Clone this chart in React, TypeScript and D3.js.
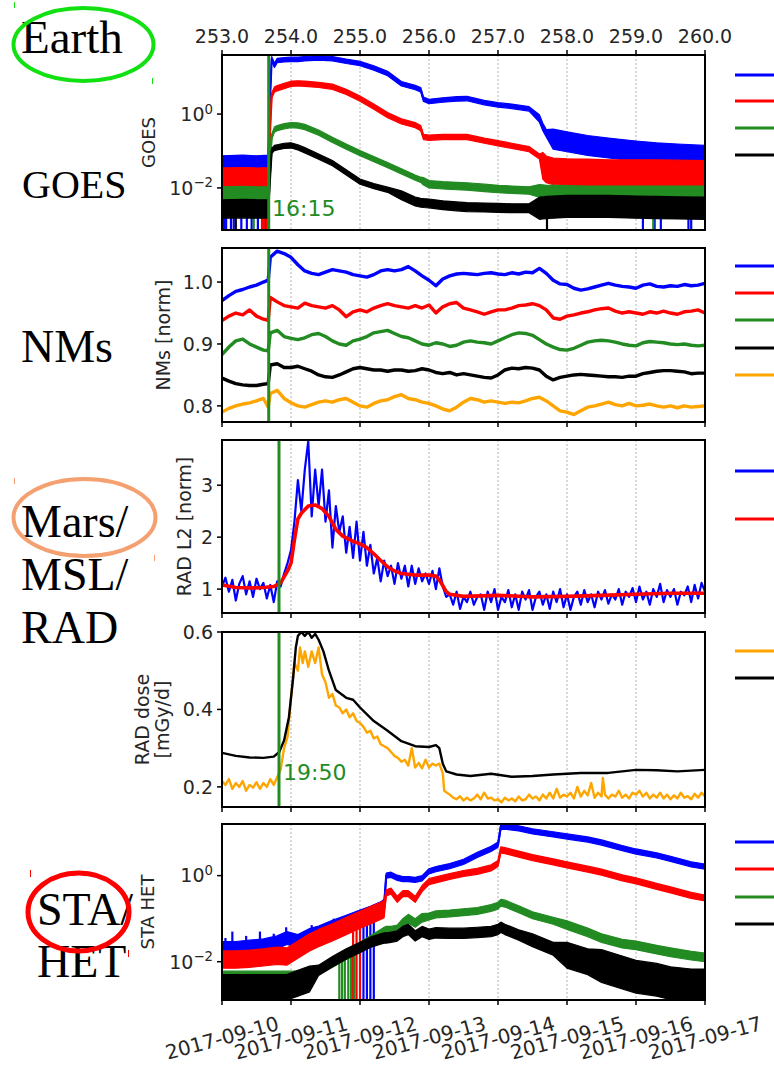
import React from 'react';
import * as d3 from 'd3';

// ---------- axis / label data ----------
const DAYS = [253, 254, 255, 256, 257, 258, 259, 260];
const TOP_LABELS = ['253.0', '254.0', '255.0', '256.0', '257.0', '258.0', '259.0', '260.0'];
const DATE_LABELS = ['2017-09-10', '2017-09-11', '2017-09-12', '2017-09-13', '2017-09-14', '2017-09-15', '2017-09-16', '2017-09-17'];
const GRID_DAYS = [254, 255, 256, 257, 258, 259];
const EARTH_ONSET = 253.677; // 16:15
const MARS_ONSET = 253.826; // 19:50

const COLORS = { blue: '#0000ff', red: '#ff0000', green: '#228b22', black: '#000000', orange: '#ffa500' };

// ---------- GOES (log10 flux) ----------
const GOES_T = [253.0, 253.3, 253.5, 253.67, 253.70, 253.72, 253.76, 253.8, 253.9, 254.0, 254.1, 254.2, 254.4, 254.6, 254.8, 255.0, 255.2, 255.4, 255.6, 255.8, 255.88, 255.92, 256.0, 256.2, 256.4, 256.55, 256.8, 257.0, 257.2, 257.45, 257.6, 257.65, 257.7, 257.8, 258.0, 258.3, 258.6, 259.0, 259.3, 259.6, 260.0];
const GOES_BLUE = [-1.30, -1.28, -1.30, -1.28, 0.6, 1.5, 1.32, 1.45, 1.47, 1.48, 1.48, 1.50, 1.52, 1.50, 1.43, 1.37, 1.25, 1.10, 0.82, 0.72, 0.66, 0.40, 0.34, 0.38, 0.41, 0.42, 0.31, 0.25, 0.21, 0.14, -0.12, -0.35, -0.52, -0.68, -0.75, -0.85, -0.92, -1.0, -1.05, -1.08, -1.12];
const GOES_RED = [-1.73, -1.72, -1.73, -1.72, -0.3, 0.50, 0.66, 0.70, 0.76, 0.82, 0.83, 0.82, 0.79, 0.74, 0.60, 0.42, 0.20, -0.03, -0.20, -0.30, -0.38, -0.62, -0.64, -0.62, -0.62, -0.62, -0.72, -0.79, -0.86, -0.95, -1.15, -1.40, -1.50, -1.55, -1.57, -1.58, -1.60, -1.60, -1.60, -1.61, -1.62];
const GOES_GREEN = [-2.15, -2.14, -2.15, -2.15, -1.2, -0.62, -0.42, -0.38, -0.33, -0.30, -0.31, -0.35, -0.50, -0.70, -0.88, -1.06, -1.22, -1.38, -1.55, -1.72, -1.78, -1.82, -1.90, -1.93, -1.95, -1.96, -2.0, -2.03, -2.05, -2.07, -2.08, -2.09, -2.10, -2.10, -2.11, -2.12, -2.12, -2.12, -2.12, -2.12, -2.12];
const GOES_BLACK = [-2.57, -2.56, -2.57, -2.57, -1.6, -1.0, -0.92, -0.90, -0.86, -0.85, -0.90, -0.98, -1.15, -1.33, -1.58, -1.83, -1.95, -2.05, -2.20, -2.37, -2.40, -2.41, -2.42, -2.47, -2.50, -2.52, -2.53, -2.54, -2.55, -2.55, -2.55, -2.54, -2.53, -2.52, -2.50, -2.50, -2.50, -2.52, -2.53, -2.54, -2.55];
// noise half-width in decades, as [start day, spread]
const GOES_BLUE_NOISE = [[253.0, 0.17], [253.69, 0.06], [257.6, 0.1], [257.75, 0.27]];
const GOES_RED_NOISE = [[253.0, 0.27], [253.69, 0.07], [257.62, 0.36]];
const GOES_GREEN_NOISE = [[253.0, 0.18], [253.69, 0.07], [255.9, 0.1], [257.6, 0.17]];
const GOES_BLACK_NOISE = [[253.0, 0.25], [253.69, 0.07], [255.6, 0.12], [257.6, 0.3]];
const GOES_BLUE_DROPS = [253.03, 253.06, 253.13, 253.17, 253.28, 253.36, 253.43, 253.52, 253.63, 259.1, 259.27, 259.36, 259.76, 259.8];
const GOES_RED_DROPS = [253.58, 253.61, 253.65];
const GOES_GREEN_DROPS = [253.46, 259.25];
const GOES_BLACK_DROPS = [253.2, 257.71];

// ---------- Neutron monitors ----------
const NM_T = [253.0, 253.1, 253.2, 253.3, 253.4, 253.5, 253.6, 253.67, ...d3.range(64).map((i) => 253.7 + i * 0.1)];
const NM_BLUE = [0.970, 0.978, 0.985, 0.988, 0.992, 0.995, 1.000, 1.003,
  1.040, 1.050, 1.046, 1.040, 1.028, 1.018, 1.014, 1.012, 1.016, 1.020, 1.018, 1.016, 1.012, 1.010, 1.008, 1.012, 1.018, 1.020, 1.018, 1.020, 1.025, 1.018, 1.010, 1.003, 0.994, 1.005, 1.010, 1.013, 1.014, 1.013, 1.012, 1.014, 1.015, 1.013, 1.012, 1.015, 1.013, 1.016, 1.015, 1.022, 1.014, 1.003, 0.997, 0.996, 0.990, 0.987, 0.989, 0.992, 0.995, 0.998, 0.995, 0.993, 0.992, 0.990, 0.995, 0.997, 0.993, 0.992, 0.994, 0.993, 0.996, 0.994, 0.995, 0.998];
const NM_RED = [0.938, 0.945, 0.950, 0.947, 0.955, 0.945, 0.940, 0.938,
  0.975, 0.968, 0.962, 0.960, 0.958, 0.966, 0.962, 0.960, 0.958, 0.962, 0.955, 0.944, 0.952, 0.955, 0.952, 0.958, 0.962, 0.965, 0.962, 0.960, 0.958, 0.962, 0.958, 0.963, 0.950, 0.960, 0.965, 0.967, 0.958, 0.955, 0.952, 0.948, 0.952, 0.955, 0.955, 0.958, 0.962, 0.963, 0.965, 0.962, 0.955, 0.942, 0.940, 0.945, 0.947, 0.950, 0.952, 0.955, 0.957, 0.958, 0.953, 0.950, 0.952, 0.950, 0.948, 0.952, 0.950, 0.953, 0.950, 0.948, 0.952, 0.953, 0.955, 0.950];
const NM_GREEN = [0.883, 0.895, 0.905, 0.908, 0.900, 0.895, 0.890, 0.889,
  0.918, 0.922, 0.912, 0.909, 0.907, 0.910, 0.915, 0.917, 0.912, 0.905, 0.900, 0.898, 0.905, 0.908, 0.912, 0.918, 0.920, 0.922, 0.917, 0.912, 0.910, 0.905, 0.900, 0.898, 0.902, 0.900, 0.896, 0.898, 0.903, 0.905, 0.903, 0.902, 0.900, 0.905, 0.910, 0.915, 0.918, 0.917, 0.914, 0.907, 0.900, 0.895, 0.891, 0.890, 0.893, 0.898, 0.903, 0.905, 0.906, 0.905, 0.903, 0.900, 0.898, 0.897, 0.902, 0.904, 0.903, 0.902, 0.900, 0.899, 0.900, 0.898, 0.897, 0.898];
const NM_BLACK = [0.845, 0.840, 0.836, 0.834, 0.833, 0.833, 0.835, 0.836,
  0.866, 0.868, 0.862, 0.862, 0.864, 0.860, 0.856, 0.850, 0.847, 0.846, 0.850, 0.855, 0.860, 0.862, 0.860, 0.858, 0.858, 0.856, 0.858, 0.858, 0.856, 0.857, 0.860, 0.858, 0.854, 0.852, 0.854, 0.850, 0.852, 0.850, 0.848, 0.846, 0.845, 0.850, 0.858, 0.861, 0.860, 0.862, 0.861, 0.858, 0.848, 0.842, 0.846, 0.848, 0.850, 0.851, 0.850, 0.849, 0.848, 0.847, 0.847, 0.846, 0.848, 0.848, 0.852, 0.854, 0.856, 0.857, 0.857, 0.856, 0.855, 0.852, 0.853, 0.853];
const NM_ORANGE = [0.790, 0.796, 0.800, 0.803, 0.805, 0.808, 0.812, 0.798,
  0.820, 0.825, 0.812, 0.805, 0.800, 0.798, 0.802, 0.806, 0.808, 0.806, 0.810, 0.812, 0.806, 0.800, 0.798, 0.804, 0.808, 0.810, 0.815, 0.818, 0.812, 0.810, 0.806, 0.804, 0.800, 0.795, 0.792, 0.798, 0.806, 0.812, 0.810, 0.806, 0.808, 0.806, 0.804, 0.806, 0.805, 0.808, 0.812, 0.814, 0.808, 0.800, 0.792, 0.790, 0.786, 0.792, 0.798, 0.800, 0.803, 0.806, 0.802, 0.800, 0.804, 0.800, 0.801, 0.803, 0.800, 0.798, 0.800, 0.797, 0.800, 0.798, 0.799, 0.800];

// ---------- RAD L2 ----------
const L2_BLUE_T = d3.range(141).map((i) => 253 + i * 0.05);
const L2_BLUE = [
  1.05, 1.22, 0.95, 1.18, 0.78, 1.10, 1.25, 0.90, 1.15, 0.85,
  1.20, 1.00, 1.12, 0.82, 1.08, 0.75, 1.15, 1.05, 1.30, 1.50,
  1.75, 2.30, 3.10, 2.50, 3.30, 3.85, 2.40, 3.30, 2.60, 3.30,
  2.30, 2.90, 1.80, 2.60, 2.10, 2.40, 1.70, 2.20, 1.60, 2.30,
  1.55, 2.10, 1.45, 1.85, 1.30, 1.60, 1.15, 1.55, 1.25, 1.45,
  1.10, 1.50, 1.20, 1.45, 1.05, 1.45, 1.10, 1.40, 1.15, 1.30,
  1.10, 1.35, 1.00, 1.40, 1.05, 0.85, 0.90, 0.70, 0.95, 0.62,
  0.85, 0.75, 0.95, 0.70, 0.85, 0.90, 0.60, 0.95, 0.75, 1.00,
  0.60, 0.85, 0.75, 0.98, 0.65, 0.90, 0.60, 0.95, 0.80, 0.98,
  0.60, 0.85, 0.95, 0.70, 0.90, 0.62, 0.95, 0.75, 1.00, 0.65,
  0.90, 0.60, 0.85, 0.95, 0.70, 0.98, 0.75, 0.90, 0.65, 0.95,
  0.80, 0.98, 0.72, 0.90, 0.80, 1.00, 0.70, 0.95, 0.85, 1.02,
  0.75, 1.05, 0.80, 0.95, 0.70, 1.00, 0.85, 1.10, 0.75, 0.98,
  0.85, 1.00, 0.70, 0.95, 0.88, 1.05, 0.75, 1.08, 0.82, 1.12,
  0.95];
const L2_RED = [[253.0, 1.08], [253.2, 1.03], [253.4, 1.02], [253.6, 1.03], [253.75, 1.05], [253.85, 1.12], [253.95, 1.35], [254.0, 1.5], [254.05, 1.95], [254.1, 2.35], [254.15, 2.46], [254.25, 2.6], [254.35, 2.62], [254.45, 2.55], [254.55, 2.4], [254.65, 2.15], [254.75, 2.02], [254.9, 1.92], [255.0, 1.87], [255.1, 1.8], [255.2, 1.68], [255.3, 1.55], [255.4, 1.43], [255.5, 1.35], [255.6, 1.3], [255.8, 1.27], [256.0, 1.27], [256.1, 1.25], [256.15, 1.18], [256.25, 0.95], [256.3, 0.9], [256.5, 0.86], [257.0, 0.88], [257.5, 0.85], [258.0, 0.86], [258.5, 0.88], [259.0, 0.9], [259.5, 0.92], [260.0, 0.92]];

// ---------- RAD dose ----------
const DOSE_BLACK = [[253.0, 0.288], [253.2, 0.28], [253.4, 0.276], [253.6, 0.275], [253.75, 0.278], [253.83, 0.29], [253.9, 0.32], [253.97, 0.38], [254.03, 0.48], [254.07, 0.56], [254.1, 0.59], [254.15, 0.6], [254.2, 0.59], [254.25, 0.6], [254.3, 0.585], [254.35, 0.595], [254.4, 0.58], [254.47, 0.55], [254.55, 0.5], [254.65, 0.45], [254.8, 0.43], [254.9, 0.425], [255.0, 0.405], [255.2, 0.37], [255.4, 0.345], [255.6, 0.318], [255.8, 0.305], [256.0, 0.303], [256.1, 0.308], [256.15, 0.3], [256.2, 0.26], [256.25, 0.24], [256.4, 0.232], [256.6, 0.228], [256.9, 0.234], [257.2, 0.226], [257.5, 0.228], [257.8, 0.232], [258.2, 0.236], [258.6, 0.236], [259.0, 0.244], [259.3, 0.243], [259.6, 0.24], [260.0, 0.244]];
const DOSE_ORANGE = [[253.0, 0.215], [253.05, 0.205], [253.1, 0.22], [253.15, 0.195], [253.2, 0.21], [253.25, 0.2], [253.3, 0.215], [253.35, 0.19], [253.4, 0.205], [253.45, 0.198], [253.5, 0.212], [253.55, 0.195], [253.6, 0.21], [253.65, 0.2], [253.7, 0.22], [253.75, 0.205], [253.8, 0.225], [253.85, 0.245], [253.9, 0.3], [253.95, 0.33], [254.0, 0.43], [254.05, 0.52], [254.1, 0.5], [254.13, 0.56], [254.17, 0.52], [254.2, 0.55], [254.25, 0.51], [254.3, 0.55], [254.35, 0.52], [254.4, 0.56], [254.45, 0.49], [254.5, 0.47], [254.55, 0.43], [254.6, 0.44], [254.65, 0.41], [254.7, 0.405], [254.75, 0.39], [254.8, 0.4], [254.85, 0.38], [254.9, 0.39], [254.95, 0.37], [255.0, 0.365], [255.05, 0.355], [255.1, 0.34], [255.15, 0.345], [255.2, 0.325], [255.25, 0.33], [255.3, 0.31], [255.35, 0.305], [255.4, 0.3], [255.45, 0.29], [255.5, 0.28], [255.55, 0.275], [255.6, 0.265], [255.65, 0.27], [255.7, 0.255], [255.75, 0.3], [255.8, 0.25], [255.85, 0.262], [255.9, 0.248], [255.95, 0.27], [256.0, 0.25], [256.05, 0.26], [256.1, 0.255], [256.15, 0.26], [256.2, 0.235], [256.22, 0.19], [256.3, 0.18], [256.35, 0.172], [256.4, 0.168], [256.45, 0.176], [256.5, 0.165], [256.55, 0.172], [256.6, 0.165], [256.65, 0.17], [256.7, 0.18], [256.75, 0.168], [256.8, 0.185], [256.85, 0.17], [256.9, 0.172], [256.95, 0.165], [257.0, 0.168], [257.05, 0.16], [257.1, 0.172], [257.15, 0.165], [257.2, 0.17], [257.25, 0.163], [257.3, 0.175], [257.35, 0.165], [257.4, 0.168], [257.45, 0.18], [257.5, 0.17], [257.55, 0.175], [257.6, 0.165], [257.65, 0.18], [257.7, 0.17], [257.75, 0.185], [257.8, 0.17], [257.85, 0.195], [257.9, 0.172], [257.95, 0.18], [258.0, 0.175], [258.05, 0.185], [258.1, 0.17], [258.15, 0.2], [258.2, 0.175], [258.25, 0.19], [258.3, 0.178], [258.35, 0.21], [258.4, 0.172], [258.45, 0.185], [258.5, 0.175], [258.52, 0.223], [258.55, 0.18], [258.6, 0.17], [258.65, 0.18], [258.7, 0.175], [258.75, 0.19], [258.8, 0.172], [258.85, 0.18], [258.9, 0.17], [258.95, 0.185], [259.0, 0.18], [259.05, 0.19], [259.1, 0.175], [259.15, 0.185], [259.2, 0.17], [259.25, 0.18], [259.3, 0.172], [259.35, 0.185], [259.4, 0.17], [259.45, 0.18], [259.5, 0.168], [259.55, 0.178], [259.6, 0.17], [259.65, 0.185], [259.7, 0.172], [259.75, 0.176], [259.8, 0.168], [259.85, 0.182], [259.9, 0.172], [259.95, 0.185], [260.0, 0.175]];

// ---------- STEREO-A HET (log10 flux) ----------
const STA_T = [253.0, 253.2, 253.4, 253.6, 253.8, 253.94, 254.1, 254.27, 254.4, 254.6, 254.8, 255.0, 255.15, 255.3, 255.35, 255.38, 255.45, 255.54, 255.62, 255.7, 255.8, 255.9, 256.0, 256.1, 256.3, 256.5, 256.7, 256.9, 257.0, 257.04, 257.1, 257.3, 257.5, 257.8, 258.0, 258.3, 258.5, 258.8, 259.0, 259.3, 259.5, 259.8, 260.0];
const STA_BLUE = [-1.68, -1.68, -1.65, -1.62, -1.55, -1.45, -1.52, -1.38, -1.32, -1.19, -1.07, -0.95, -0.86, -0.76, -0.70, 0.0, 0.02, -0.05, -0.08, -0.08, -0.10, -0.06, 0.10, 0.15, 0.22, 0.32, 0.48, 0.62, 0.72, 1.13, 1.14, 1.10, 1.03, 0.96, 0.91, 0.84, 0.77, 0.64, 0.56, 0.47, 0.39, 0.26, 0.21];
const STA_RED = [-1.95, -1.95, -1.93, -1.90, -1.86, -1.88, -1.72, -1.55, -1.45, -1.32, -1.17, -1.03, -0.92, -0.82, -0.78, -0.40, -0.36, -0.55, -0.42, -0.42, -0.55, -0.30, -0.14, -0.10, -0.02, 0.05, 0.10, 0.18, 0.28, 0.60, 0.58, 0.50, 0.42, 0.32, 0.25, 0.15, 0.08, -0.05, -0.12, -0.25, -0.33, -0.46, -0.52];
const STA_GREEN = [-2.32, -2.32, -2.32, -2.32, -2.32, -2.32, -2.32, -2.3, -2.2, -2.03, -1.85, -1.65, -1.5, -1.35, -1.30, -1.28, -1.28, -1.25, -1.10, -1.0, -1.1, -0.98, -0.95, -0.9, -0.88, -0.85, -0.82, -0.75, -0.70, -0.63, -0.65, -0.78, -0.92, -1.05, -1.15, -1.32, -1.45, -1.58, -1.62, -1.72, -1.78, -1.86, -1.9];
const STA_BLACK = [-2.6, -2.6, -2.6, -2.6, -2.6, -2.6, -2.5, -2.4, -2.2, -2.0, -1.82, -1.67, -1.55, -1.47, -1.45, -1.45, -1.43, -1.40, -1.30, -1.25, -1.40, -1.30, -1.36, -1.33, -1.34, -1.34, -1.32, -1.30, -1.25, -1.20, -1.25, -1.38, -1.50, -1.70, -1.85, -2.0, -2.1, -2.25, -2.35, -2.42, -2.5, -2.55, -2.55];
const STA_BLUE_NOISE = [[253.0, 0.15], [255.36, 0.06]];
const STA_RED_NOISE = [[253.0, 0.2], [255.36, 0.07]];
const STA_GREEN_NOISE = [[253.0, 0.1], [256.0, 0.08], [258.0, 0.1]];
const STA_BLACK_NOISE = [[253.0, 0.3], [254.3, 0.12], [257.5, 0.15], [258.0, 0.3], [258.5, 0.38]];
const STA_BLUE_PEAKS = [[253.05, -1.45], [253.15, -1.3], [253.35, -1.4], [253.55, -1.3], [253.75, -1.35], [253.93, -1.2], [254.1, -1.4], [254.3, -1.15], [254.45, -1.2], [254.62, -1.0]];
const STA_GREEN_DROPS = [254.7, 254.74, 254.78, 254.83, 254.87, 254.92];
const STA_RED_DROPS = [254.9, 254.95, 255.0];
const STA_BLUE_DROPS = [255.05, 255.1, 255.15, 255.2];

// ---------- layout ----------
const W = 774;
const H = 1066;
const X0 = 222;
const X1 = 705;
const P = {
  goes: [55, 230],
  nm: [248, 422],
  l2: [440, 613],
  dose: [632, 807],
  sta: [824, 1000],
};
const FONT = 'DejaVu Sans, sans-serif';
const SERIF = 'Liberation Serif, Times New Roman, serif';

function noiseAt(noise: number[][], t: number) {
  let s = noise[0][1];
  for (const [t0, v] of noise) if (t >= t0) s = v;
  return s;
}
function interpAt(T: number[], v: number[], t: number) {
  const i = Math.max(1, Math.min(T.length - 1, d3.bisectRight(T, t)));
  const a = (t - T[i - 1]) / (T[i] - T[i - 1]);
  return v[i - 1] + a * (v[i] - v[i - 1]);
}

export default function App() {
  const x = d3.scaleLinear().domain([253, 260]).range([X0, X1]);
  const yGoes = d3.scaleLog().domain([10 ** -3.14, 10 ** 1.6]).range([P.goes[1], P.goes[0]]).clamp(true);
  const yNm = d3.scaleLinear().domain([0.774, 1.055]).range([P.nm[1], P.nm[0]]);
  const yL2 = d3.scaleLinear().domain([0.54, 3.87]).range([P.l2[1], P.l2[0]]);
  const yDose = d3.scaleLinear().domain([0.148, 0.6]).range([P.dose[1], P.dose[0]]);
  const ySta = d3.scaleLog().domain([10 ** -2.89, 10 ** 1.2]).range([P.sta[1], P.sta[0]]).clamp(true);

  const band = (T: number[], c: number[], noise: number[][], y: any, color: string, key: string) => {
    const area = d3.area<number>()
      .x((_, i) => x(T[i]))
      .y0((v, i) => y(10 ** (v - noiseAt(noise, T[i]))))
      .y1((v, i) => y(10 ** (v + noiseAt(noise, T[i]))));
    const line = d3.line<number>().x((_, i) => x(T[i])).y((v) => y(10 ** v));
    return (
      <g key={key}>
        <path d={area(c) || ''} fill={color} stroke={color} strokeWidth={1.2} strokeLinejoin="round" />
        <path d={line(c) || ''} fill="none" stroke={color} strokeWidth={2.2} />
      </g>
    );
  };
  const drops = (days: number[], T: number[], c: number[], noise: number[][], y: any, bottom: number, color: string, key: string) => (
    <g key={key}>
      {days.map((t, i) => (
        <line key={i} x1={x(t)} x2={x(t)} y1={y(10 ** (interpAt(T, c, t) - noiseAt(noise, t)))} y2={bottom} stroke={color} strokeWidth={2.2} />
      ))}
    </g>
  );
  const pairLine = (pts: number[][], y: any, color: string, w: number) => {
    const line = d3.line<number[]>().x((d) => x(d[0])).y((d) => y(d[1]));
    return <path d={line(pts) || ''} fill="none" stroke={color} strokeWidth={w} strokeLinejoin="round" />;
  };
  const arrLine = (T: number[], v: number[], y: any, color: string, w: number, key?: string) => {
    const line = d3.line<number>().x((_, i) => x(T[i])).y((d) => y(d));
    return <path key={key} d={line(v) || ''} fill="none" stroke={color} strokeWidth={w} strokeLinejoin="round" />;
  };

  const frame = (p: number[], id: string) => (
    <rect x={X0} y={p[0]} width={X1 - X0} height={p[1] - p[0]} fill="none" stroke="#000" strokeWidth={2} key={id} />
  );
  const grid = (p: number[], id: string) => (
    <g key={id}>
      {GRID_DAYS.map((d) => (
        <line key={d} x1={x(d)} x2={x(d)} y1={p[0]} y2={p[1]} stroke="#a0a0a0" strokeWidth={0.8} strokeDasharray="2,2" />
      ))}
    </g>
  );
  const bottomTicks = (p: number[], id: string) => (
    <g key={id}>
      {DAYS.map((d) => (
        <line key={d} x1={x(d)} x2={x(d)} y1={p[1]} y2={p[1] + 5} stroke="#000" strokeWidth={1.5} />
      ))}
    </g>
  );
  const yTick = (yy: number, label: React.ReactNode, key: string, fs = 19) => (
    <g key={key}>
      <line x1={X0 - 5} x2={X0} y1={yy} y2={yy} stroke="#000" strokeWidth={1.5} />
      <text x={X0 - 9} y={yy} dy="0.36em" textAnchor="end" fontSize={fs} fontFamily={FONT} fill="#262626">{label}</text>
    </g>
  );
  const logLabel = (exp: string) => (
    <>
      <tspan>10</tspan>
      <tspan dy="-0.55em" fontSize="0.7em">{exp}</tspan>
    </>
  );
  const legend = (ys: number[], cols: string[], key: string) => (
    <g key={key}>
      {ys.map((yy, i) => (
        <line key={i} x1={735} x2={W} y1={yy} y2={yy} stroke={cols[i]} strokeWidth={3} />
      ))}
    </g>
  );
  const clip = (id: string, p: number[]) => (
    <clipPath id={id} key={id}>
      <rect x={X0} y={p[0]} width={X1 - X0} height={p[1] - p[0]} />
    </clipPath>
  );

  return (
    <svg width={W} height={H} viewBox={`0 0 ${W} ${H}`} style={{ position: 'absolute', left: 0, top: 0, background: '#fff' }}>
      <defs>
        {clip('c1', P.goes)}
        {clip('c2', P.nm)}
        {clip('c3', P.l2)}
        {clip('c4', P.dose)}
        {clip('c5', P.sta)}
      </defs>
      <rect x={0} y={0} width={W} height={H} fill="#fff" />

      {/* left annotations */}
      <g fontFamily={SERIF} fill="#000">
        <text x={21} y={53} fontSize={47}>Earth</text>
        <text x={22} y={198} fontSize={40}>GOES</text>
        <text x={21} y={362} fontSize={46}>NMs</text>
        <text x={21} y={537} fontSize={46}>Mars/</text>
        <text x={21} y={590} fontSize={46}>MSL/</text>
        <text x={21} y={643} fontSize={46}>RAD</text>
        <text x={37} y={925} fontSize={46}>STA/</text>
        <text x={37} y={977} fontSize={46}>HET</text>
      </g>
      <ellipse cx={83.5} cy={44.5} rx={70} ry={36.5} fill="none" stroke="#11e011" strokeWidth={4} />
      <ellipse cx={84.5} cy={517.5} rx={71} ry={38.5} fill="none" stroke="#f4a070" strokeWidth={4} />
      <ellipse cx={78.5} cy={912} rx={50.5} ry={39} fill="none" stroke="#ff0000" strokeWidth={5} />
      <line x1={14.5} x2={14.5} y1={2} y2={8} stroke="#11e011" strokeWidth={1} />
      <line x1={152.5} x2={152.5} y1={78} y2={84} stroke="#11e011" strokeWidth={1} />
      <line x1={14.5} x2={14.5} y1={478} y2={484} stroke="#f4a070" strokeWidth={1} />
      <line x1={154.5} x2={154.5} y1={555} y2={561} stroke="#f4a070" strokeWidth={1} />
      <line x1={30.5} x2={30.5} y1={870} y2={877} stroke="#ff0000" strokeWidth={1} />
      <line x1={128.5} x2={128.5} y1={950} y2={957} stroke="#ff0000" strokeWidth={1} />

      {/* grids */}
      {grid(P.goes, 'g1')}
      {grid(P.nm, 'g2')}
      {grid(P.l2, 'g3')}
      {grid(P.dose, 'g4')}
      {grid(P.sta, 'g5')}

      {/* GOES */}
      <g clipPath="url(#c1)">
        {band(GOES_T, GOES_BLUE, GOES_BLUE_NOISE, yGoes, COLORS.blue, 'gb')}
        {drops(GOES_BLUE_DROPS, GOES_T, GOES_BLUE, GOES_BLUE_NOISE, yGoes, P.goes[1], COLORS.blue, 'gbd')}
        {band(GOES_T, GOES_RED, GOES_RED_NOISE, yGoes, COLORS.red, 'gr')}
        {drops(GOES_RED_DROPS, GOES_T, GOES_RED, GOES_RED_NOISE, yGoes, P.goes[1], COLORS.red, 'grd')}
        {band(GOES_T, GOES_GREEN, GOES_GREEN_NOISE, yGoes, COLORS.green, 'gg')}
        {drops(GOES_GREEN_DROPS, GOES_T, GOES_GREEN, GOES_GREEN_NOISE, yGoes, P.goes[1], COLORS.green, 'ggd')}
        {band(GOES_T, GOES_BLACK, GOES_BLACK_NOISE, yGoes, COLORS.black, 'gk')}
        {drops(GOES_BLACK_DROPS, GOES_T, GOES_BLACK, GOES_BLACK_NOISE, yGoes, P.goes[1], COLORS.black, 'gkd')}
        <line x1={x(EARTH_ONSET)} x2={x(EARTH_ONSET)} y1={P.goes[0]} y2={P.goes[1]} stroke={COLORS.green} strokeWidth={3} />
      </g>
      <text x={272} y={216} fontSize={22} fontFamily={FONT} fill={COLORS.green}>16:15</text>

      {/* NMs */}
      <g clipPath="url(#c2)">
        {arrLine(NM_T, NM_BLUE, yNm, COLORS.blue, 3.4, 'nb')}
        {arrLine(NM_T, NM_RED, yNm, COLORS.red, 3.4, 'nr')}
        {arrLine(NM_T, NM_GREEN, yNm, COLORS.green, 3.4, 'ng')}
        {arrLine(NM_T, NM_BLACK, yNm, COLORS.black, 3.4, 'nk')}
        {arrLine(NM_T, NM_ORANGE, yNm, COLORS.orange, 3.4, 'no')}
        <line x1={x(EARTH_ONSET)} x2={x(EARTH_ONSET)} y1={P.nm[0]} y2={P.nm[1]} stroke={COLORS.green} strokeWidth={3} />
      </g>

      {/* RAD L2 */}
      <g clipPath="url(#c3)">
        {arrLine(L2_BLUE_T, L2_BLUE, yL2, COLORS.blue, 2.2)}
        {pairLine(L2_RED, yL2, COLORS.red, 3.6)}
        <line x1={x(MARS_ONSET)} x2={x(MARS_ONSET)} y1={P.l2[0]} y2={P.l2[1]} stroke={COLORS.green} strokeWidth={3} />
      </g>

      {/* RAD dose */}
      <g clipPath="url(#c4)">
        {pairLine(DOSE_ORANGE, yDose, COLORS.orange, 2.4)}
        {pairLine(DOSE_BLACK, yDose, COLORS.black, 2.4)}
        <line x1={x(MARS_ONSET)} x2={x(MARS_ONSET)} y1={P.dose[0]} y2={P.dose[1]} stroke={COLORS.green} strokeWidth={3} />
      </g>
      <text x={283} y={780} fontSize={22} fontFamily={FONT} fill={COLORS.green}>19:50</text>

      {/* STA HET */}
      <g clipPath="url(#c5)">
        {band(STA_T, STA_BLUE, STA_BLUE_NOISE, ySta, COLORS.blue, 'sb')}
        <g>
          {STA_BLUE_PEAKS.map(([t, v], i) => (
            <line key={i} x1={x(t)} x2={x(t)} y1={ySta(10 ** interpAt(STA_T, STA_BLUE, t))} y2={ySta(10 ** v)} stroke={COLORS.blue} strokeWidth={2.2} />
          ))}
        </g>
        {drops(STA_BLUE_DROPS, STA_T, STA_BLUE, STA_BLUE_NOISE, ySta, P.sta[1], COLORS.blue, 'sbd')}
        {band(STA_T, STA_RED, STA_RED_NOISE, ySta, COLORS.red, 'sr')}
        {drops(STA_RED_DROPS, STA_T, STA_RED, STA_RED_NOISE, ySta, P.sta[1], COLORS.red, 'srd')}
        {band(STA_T, STA_GREEN, STA_GREEN_NOISE, ySta, COLORS.green, 'sg')}
        {drops(STA_GREEN_DROPS, STA_T, STA_GREEN, STA_GREEN_NOISE, ySta, P.sta[1], COLORS.green, 'sgd')}
        {band(STA_T, STA_BLACK, STA_BLACK_NOISE, ySta, COLORS.black, 'sk')}
      </g>

      {/* frames */}
      {frame(P.goes, 'f1')}
      {frame(P.nm, 'f2')}
      {frame(P.l2, 'f3')}
      {frame(P.dose, 'f4')}
      {frame(P.sta, 'f5')}

      {/* top axis */}
      <g>
        {DAYS.map((d, i) => (
          <g key={d}>
            <line x1={x(d)} x2={x(d)} y1={P.goes[0] - 5} y2={P.goes[0]} stroke="#000" strokeWidth={1.5} />
            <text x={x(d)} y={43} textAnchor="middle" fontSize={19} fontFamily={FONT} fill="#262626">{TOP_LABELS[i]}</text>
          </g>
        ))}
      </g>
      {bottomTicks(P.nm, 'b2')}
      {bottomTicks(P.l2, 'b3')}
      {bottomTicks(P.dose, 'b4')}
      {bottomTicks(P.sta, 'b5')}

      {/* bottom date labels */}
      <g>
        {DAYS.map((d, i) => (
          <text key={d} transform={`translate(${x(d)},1038) rotate(-15)`} dy="0.35em" textAnchor="middle" fontSize={20} fontFamily={FONT} fill="#262626">{DATE_LABELS[i]}</text>
        ))}
      </g>

      {/* y ticks */}
      {yTick(yGoes(1), logLabel('0'), 't1a')}
      {yTick(yGoes(0.01), logLabel('\u22122'), 't1b')}
      {[0.8, 0.9, 1.0].map((v) => yTick(yNm(v), v.toFixed(1), 'tn' + v))}
      {[1, 2, 3].map((v) => yTick(yL2(v), String(v), 'tl' + v))}
      {[0.2, 0.4, 0.6].map((v) => yTick(yDose(v), v.toFixed(1), 'td' + v))}
      {yTick(ySta(1), logLabel('0'), 't5a')}
      {yTick(ySta(0.01), logLabel('\u22122'), 't5b')}

      {/* y labels */}
      <g fontFamily={FONT} fill="#262626" textAnchor="middle">
        <text transform={`translate(155,142.5) rotate(-90)`} fontSize={18}>GOES</text>
        <text transform={`translate(170,335) rotate(-90)`} fontSize={19}>NMs [norm]</text>
        <text transform={`translate(191,526.5) rotate(-90)`} fontSize={19}>RAD L2 [norm]</text>
        <text transform={`translate(149,719.5) rotate(-90)`} fontSize={19}>RAD dose</text>
        <text transform={`translate(169,719.5) rotate(-90)`} fontSize={19}>[mGy/d]</text>
        <text transform={`translate(154,912) rotate(-90)`} fontSize={18}>STA HET</text>
      </g>

      {/* legend stubs */}
      {legend([75, 101, 128, 155], [COLORS.blue, COLORS.red, COLORS.green, COLORS.black], 'l1')}
      {legend([266, 293, 320, 348, 375], [COLORS.blue, COLORS.red, COLORS.green, COLORS.black, COLORS.orange], 'l2')}
      {legend([471, 519], [COLORS.blue, COLORS.red], 'l3')}
      {legend([651, 678], [COLORS.orange, COLORS.black], 'l4')}
      {legend([842, 869, 897, 924], [COLORS.blue, COLORS.red, COLORS.green, COLORS.black], 'l5')}
    </svg>
  );
}
